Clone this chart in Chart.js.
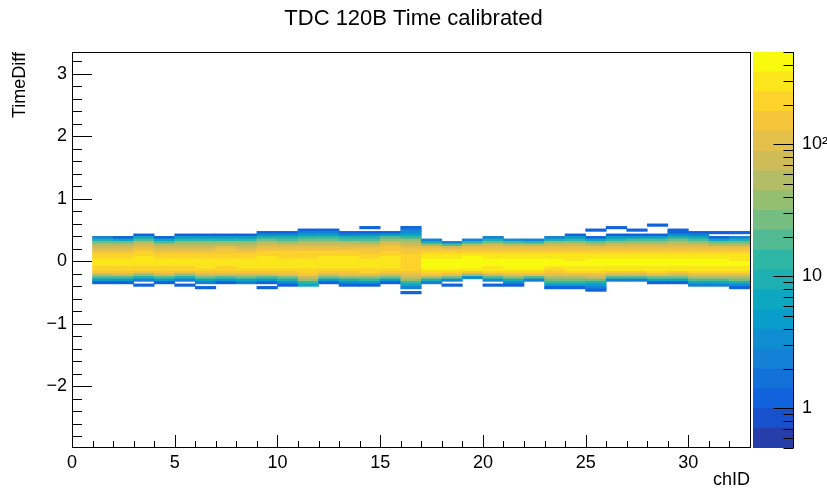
<!DOCTYPE html>
<html>
<head>
<meta charset="utf-8">
<script src="https://cdn.jsdelivr.net/npm/chart.js@4.4.1/dist/chart.umd.min.js"></script>
<style>
html, body { margin: 0; padding: 0; background: #fff; }
#wrap { position: relative; width: 827px; height: 493px; }
#main { position: absolute; left: 0; top: 0; }
#pal { position: absolute; left: 740px; top: 0; }
</style>
</head>
<body>
<div id="wrap">
<canvas id="main" width="827" height="493"></canvas>
<canvas id="pal" width="87" height="493"></canvas>
</div>
<script>
// TDC 120B, time difference vs channel: counts per (chID, TimeDiff) cell
var channels = [1,2,3,4,5,6,7,8,9,10,11,12,13,14,15,16,17,18,19,20,21,22,23,24,25,26,27,28,29,30,31,32];
var yEdges = [-0.52,-0.48,-0.44,-0.40,-0.36,-0.32,-0.28,-0.24,-0.20,-0.16,-0.12,-0.08,-0.04,0,
              0.04,0.08,0.12,0.16,0.20,0.24,0.28,0.32,0.36,0.40,0.44,0.48,0.52,0.56,0.60];
// one row per channel, one column per y bin (bottom to top)
var counts = [
  [0,0,0,0,1,4,16,60,140,200,240,260,270,260,240,210,170,125,85,55,28,9,2,0,0,0,0,0],
  [0,0,0,0,1,5,18,65,150,210,245,265,275,265,245,205,165,120,80,50,25,7,1,0,0,0,0,0],
  [0,0,0,1,0,2,8,35,110,185,235,260,275,270,255,230,195,150,110,75,45,20,6,1,0,0,0,0],
  [0,0,0,0,1,4,18,70,150,215,250,270,275,260,235,200,155,110,75,45,22,7,1,0,0,0,0,0],
  [0,0,0,1,0,2,9,40,120,195,240,265,275,265,245,210,170,125,85,58,32,12,4,1,0,0,0,0],
  [0,0,1,0,2,6,25,80,160,220,255,270,270,255,235,205,165,120,85,58,35,14,4,1,0,0,0,0],
  [0,0,0,0,1,5,22,75,155,215,250,270,275,265,245,215,175,130,92,62,38,15,4,1,0,0,0,0],
  [0,0,0,0,2,7,28,85,165,225,260,275,270,255,235,205,165,125,88,60,36,14,4,1,0,0,0,0],
  [0,0,1,0,1,5,22,75,155,215,255,275,285,275,255,225,185,145,105,72,48,24,9,3,1,0,0,0],
  [0,0,0,1,3,8,30,90,165,225,260,280,280,270,250,220,180,140,100,68,44,22,8,3,1,0,0,0],
  [0,0,0,7,14,32,75,140,200,245,275,290,285,270,250,220,180,140,105,75,50,28,12,5,2,1,0,0],
  [0,0,0,0,1,5,24,85,165,225,265,285,290,280,260,230,190,150,112,80,54,30,12,4,2,1,0,0],
  [0,0,0,1,3,10,32,90,165,225,260,280,285,275,255,225,185,145,105,72,46,22,8,2,1,0,0,0],
  [0,0,0,1,4,12,40,105,180,235,265,280,280,265,245,215,175,135,98,68,44,22,8,3,1,0,1,0],
  [0,0,0,0,1,5,24,80,160,220,260,280,285,275,255,230,200,165,130,100,72,42,16,5,1,0,0,0],
  [1,0,2,6,15,35,70,120,175,215,240,250,250,240,225,200,170,135,105,80,55,32,15,6,3,2,1,0],
  [0,0,0,0,2,10,45,130,230,320,380,400,390,360,320,270,210,150,95,35,9,2,0,0,0,0,0,0],
  [0,0,0,1,0,3,25,110,230,330,400,430,420,390,340,280,210,140,70,20,2,0,0,0,0,0,0,0],
  [0,0,0,0,0,0,3,40,150,280,370,410,420,400,360,300,230,160,100,45,12,2,0,0,0,0,0,0],
  [0,0,0,1,0,3,20,85,180,280,350,390,400,380,340,290,230,170,115,65,28,8,2,0,0,0,0,0],
  [0,0,0,1,3,9,35,100,200,300,370,400,400,380,340,285,220,160,105,55,20,3,0,0,0,0,0,0],
  [0,0,0,0,0,2,18,90,200,310,390,430,430,400,350,285,215,150,95,45,12,2,0,0,0,0,0,0],
  [0,0,1,5,12,28,60,110,170,240,310,370,390,370,330,280,220,160,110,68,32,9,2,0,0,0,0,0],
  [0,0,1,4,12,28,60,115,185,260,320,360,370,350,310,260,200,150,105,68,38,14,4,1,0,0,0,0],
  [0,1,2,4,10,28,65,125,200,270,330,370,380,360,320,270,210,150,100,58,26,7,1,0,0,1,0,0],
  [0,0,0,0,0,2,18,80,170,260,330,370,385,370,335,285,225,165,115,75,40,14,4,1,0,0,1,0],
  [0,0,0,0,0,2,16,75,165,255,330,375,390,375,340,290,230,170,120,78,42,16,4,1,0,1,0,0],
  [0,0,0,0,1,6,28,95,185,275,340,380,390,375,340,290,230,170,120,78,44,17,5,1,0,0,0,1],
  [0,0,0,0,1,6,25,85,175,265,335,375,385,370,335,285,225,165,115,78,48,24,9,3,1,1,0,0],
  [0,0,0,2,6,16,45,105,190,270,330,365,375,360,325,275,215,160,110,72,42,18,6,2,1,0,0,0],
  [0,0,0,2,7,20,55,115,195,270,330,360,370,355,320,270,210,150,100,58,26,7,1,0,1,0,0,0],
  [0,0,1,3,10,25,60,120,195,270,325,355,365,350,315,265,205,150,100,58,28,8,2,0,1,0,0,0]
];
var xTicks = [0,5,10,15,20,25,30];
var yTicks = [-2,-1,0,1,2,3];
var zTicks = [1,10,100];
var zTickLabels = ['1','10','10\u00b2'];

var zMin = 0.5, zMax = 501, nLevels = 20;
var FONT = "'Liberation Sans', Arial, Helvetica, sans-serif";

// ROOT kBird palette
var birdStops = [0.0, 0.125, 0.25, 0.375, 0.5, 0.625, 0.75, 0.875, 1.0];
var birdR = [0.2082, 0.0592, 0.0780, 0.0232, 0.1802, 0.5301, 0.8186, 0.9956, 0.9764];
var birdG = [0.1664, 0.3599, 0.5041, 0.6419, 0.7178, 0.7492, 0.7328, 0.7862, 0.9832];
var birdB = [0.5293, 0.8684, 0.8385, 0.7914, 0.6425, 0.4662, 0.3499, 0.1968, 0.0539];
function bird(t) {
  var i = 0;
  while (i < birdStops.length - 2 && t > birdStops[i + 1]) i++;
  var f = (t - birdStops[i]) / (birdStops[i + 1] - birdStops[i]);
  f = Math.max(0, Math.min(1, f));
  var r = birdR[i] + f * (birdR[i + 1] - birdR[i]);
  var g = birdG[i] + f * (birdG[i + 1] - birdG[i]);
  var b = birdB[i] + f * (birdB[i + 1] - birdB[i]);
  return 'rgb(' + Math.round(r * 255) + ',' + Math.round(g * 255) + ',' + Math.round(b * 255) + ')';
}
var levelColors = [];
for (var i = 0; i < nLevels; i++) levelColors.push(bird((i + 0.99) / nLevels));
var lzMin = Math.log10(zMin), dz = (Math.log10(zMax) - lzMin) / nLevels;
function levelOf(c) {
  var l = Math.floor((Math.log10(c) - lzMin) / dz);
  return Math.max(0, Math.min(nLevels - 1, l));
}

// one floating-bar dataset per y bin
var histSets = [];
for (var j = 0; j < yEdges.length - 1; j++) {
  var pts = [];
  channels.forEach(function (ch, ci) {
    var c = counts[ci][j];
    if (c > 0) pts.push({ x: ch + 0.5, y: [yEdges[j], yEdges[j + 1]], c: c });
  });
  histSets.push({
    data: pts,
    grouped: false,
    barPercentage: 1,
    categoryPercentage: 1,
    borderWidth: 0,
    backgroundColor: function (ctx) { return ctx.raw ? levelColors[levelOf(ctx.raw.c)] : 'rgba(0,0,0,0)'; }
  });
}

var frameTicks = {
  id: 'frameTicks',
  afterDraw: function (chart) {
    var ctx = chart.ctx, a = chart.chartArea, x = chart.scales.x, y = chart.scales.y;
    ctx.save();
    ctx.strokeStyle = '#000';
    ctx.lineWidth = 1;
    ctx.beginPath();
    for (var v = 0; v <= 33; v++) {
      var px = Math.round(x.getPixelForValue(v)) + 0.5;
      var len = (v % 5 === 0) ? 12 : 6;
      ctx.moveTo(px, a.bottom); ctx.lineTo(px, a.bottom - len);
    }
    for (var k = -14; k <= 16; k++) {
      var val = k * 0.2;
      if (val < y.min || val > y.max) continue;
      var py = Math.round(y.getPixelForValue(val)) + 0.5;
      var l2 = (k % 5 === 0) ? 20 : 10;
      ctx.moveTo(a.left, py); ctx.lineTo(a.left + l2, py);
    }
    ctx.stroke();
    ctx.strokeRect(Math.round(a.left) + 0.5, Math.round(a.top) + 0.5,
      Math.round(a.right - a.left), Math.round(a.bottom - a.top));
    ctx.restore();
  }
};

new Chart(document.getElementById('main'), {
  type: 'bar',
  data: { datasets: histSets },
  options: {
    responsive: false,
    animation: false,
    events: [],
    layout: { padding: 0 },
    plugins: {
      legend: { display: false },
      tooltip: { enabled: false },
      title: {
        display: true,
        text: 'TDC 120B Time calibrated',
        color: '#000',
        font: { family: FONT, size: 22, weight: 'normal' },
        padding: { top: 6, bottom: 19.6 }
      }
    },
    scales: {
      x: {
        type: 'linear', min: 0, max: 33, offset: false,
        grid: { display: false, drawTicks: false, offset: false },
        border: { display: false },
        afterBuildTicks: function (s) { s.ticks = xTicks.map(function (v) { return { value: v }; }); },
        ticks: { autoSkip: false, maxRotation: 0, padding: 5, color: '#000', font: { family: FONT, size: 18 } },
        title: { display: true, text: 'chID', align: 'end', color: '#000', font: { family: FONT, size: 18 }, padding: { top: 0, bottom: 2 } },
        afterFit: function (s) { s.height = 46; }
      },
      y: {
        type: 'linear', min: -2.97, max: 3.35,
        grid: { display: false, drawTicks: false },
        border: { display: false },
        afterBuildTicks: function (s) { s.ticks = yTicks.map(function (v) { return { value: v }; }); },
        ticks: {
          padding: 5, color: '#000', font: { family: FONT, size: 18 },
          callback: function (v) { return String(v).replace('-', '\u2212'); }
        },
        title: { display: true, text: 'TimeDiff', align: 'end', color: '#000', font: { family: FONT, size: 18 }, padding: { top: 9, bottom: 0 } },
        afterFit: function (s) { s.width = 72; }
      },
      // empty right-hand band that keeps room for the palette
      yr: {
        type: 'linear', position: 'right', display: true,
        grid: { display: false, drawTicks: false },
        border: { display: false },
        ticks: { display: false },
        afterFit: function (s) { s.width = 77; }
      }
    }
  },
  plugins: [frameTicks]
});

// colour palette axis
var palSets = levelColors.map(function (col, i) {
  return {
    data: [[Math.pow(10, lzMin + i * dz), Math.pow(10, lzMin + (i + 1) * dz)]],
    backgroundColor: col,
    grouped: false,
    barPercentage: 1,
    categoryPercentage: 1,
    borderWidth: 0
  };
});

var palTicks = {
  id: 'palTicks',
  afterDraw: function (chart) {
    var ctx = chart.ctx, a = chart.chartArea, z = chart.scales.y;
    var xr = Math.round(a.right) + 0.5;
    ctx.save();
    ctx.strokeStyle = '#000';
    ctx.lineWidth = 1;
    ctx.beginPath();
    ctx.moveTo(xr, a.top); ctx.lineTo(xr, a.bottom);
    for (var e = -1; e <= 2; e++) {
      for (var m = 1; m <= 9; m++) {
        var v = m * Math.pow(10, e);
        if (v < zMin || v > zMax) continue;
        var py = Math.round(z.getPixelForValue(v)) + 0.5;
        var len = (m === 1) ? 20 : 10;
        ctx.moveTo(xr, py); ctx.lineTo(xr - len, py);
      }
    }
    ctx.stroke();
    ctx.restore();
  }
};

new Chart(document.getElementById('pal'), {
  type: 'bar',
  data: { labels: ['z'], datasets: palSets },
  options: {
    responsive: false,
    animation: false,
    events: [],
    layout: { padding: { left: 13, right: 0, top: 52, bottom: 45 } },
    plugins: { legend: { display: false }, tooltip: { enabled: false } },
    scales: {
      x: { display: false },
      y: {
        type: 'logarithmic', position: 'right', min: zMin, max: zMax,
        grid: { display: false, drawTicks: false },
        border: { display: false },
        afterBuildTicks: function (s) { s.ticks = zTicks.map(function (v) { return { value: v }; }); },
        ticks: {
          padding: 9, color: '#000', font: { family: FONT, size: 18 },
          callback: function (v, i) { return zTickLabels[i]; }
        },
        afterFit: function (s) { s.width = 34; }
      }
    }
  },
  plugins: [palTicks]
});
</script>
</body>
</html>
